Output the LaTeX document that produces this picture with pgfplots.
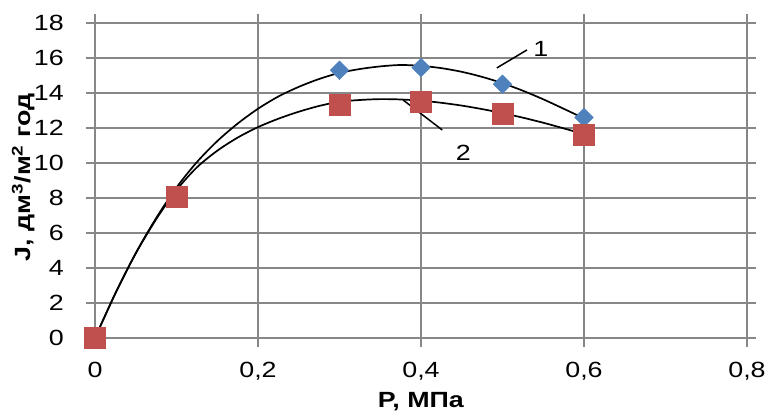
\documentclass[border=0pt]{standalone}
\usepackage{fontspec}
\setmainfont{Liberation Sans}[FakeStretch=1.22]
\usepackage{pgfplots}
\pgfplotsset{compat=1.18}

\definecolor{ser1}{HTML}{4F81BD}
\definecolor{ser2}{HTML}{C0504D}
\definecolor{gridc}{HTML}{878787}

\begin{document}
\begin{tikzpicture}[font=\fontsize{22}{26}\selectfont]
\begin{axis}[
    scale only axis,
    width=652pt, height=315pt,
    xmin=0, xmax=0.8, ymin=0, ymax=18,
    xtick={0,0.2,0.4,0.6,0.8},
    ytick={0,2,4,6,8,10,12,14,16,18},
    grid=major,
    grid style={gridc, line width=1.8pt},
    axis line style={gridc, line width=1.8pt},
    tick style={gridc, line width=1.8pt},
    tick align=outside,
    major tick length=9pt,
    /pgf/number format/use comma,
    /pgf/number format/assume math mode=true,
    xticklabel style={/pgf/number format/fixed, /pgf/number format/precision=1,
        anchor=base, inner sep=0pt, yshift=-30pt},
    yticklabel style={anchor=east, inner sep=0pt, xshift=-22pt},
    xlabel={\textbf{P, МПа}},
    ylabel={\textbf{J, дм\textsuperscript{3}/м\textsuperscript{2} год}},
    xlabel style={at={(axis description cs:0.5,-0.222)}, anchor=base, inner sep=0pt},
    ylabel style={at={(axis description cs:-0.11,0.51)}, anchor=center, inner sep=0pt},
    clip=false,
]
% series 1 (diamonds)
\addplot[only marks, mark=square*, mark size=6.6pt,
    mark options={rotate=45, fill=ser1, draw=ser1}] coordinates {
    (0,0) (0.1,8.15) (0.3,15.3) (0.4,15.45) (0.5,14.5) (0.6,12.6)
};
% series 2 (squares)
\addplot[only marks, mark=square*, mark size=10.5pt,
    mark options={fill=ser2, draw=ser2}] coordinates {
    (0,0) (0.1,8.05) (0.3,13.35) (0.4,13.5) (0.5,12.8) (0.6,11.6)
};
% trend line 1
\addplot[black, line width=1.7pt, smooth, no marks] coordinates {
    (0,0) (0.025,2.55) (0.05,4.85) (0.075,6.85) (0.1,8.6) (0.125,10.05)
    (0.15,11.25) (0.175,12.25) (0.2,13.1) (0.225,13.8) (0.25,14.35)
    (0.275,14.8) (0.3,15.15) (0.325,15.37) (0.35,15.52) (0.375,15.6)
    (0.4,15.55) (0.425,15.42) (0.45,15.21) (0.475,14.92) (0.5,14.56)
    (0.525,14.13) (0.55,13.64) (0.575,13.1) (0.6,12.55)
};
% trend line 2
\addplot[black, line width=1.7pt, smooth, no marks] coordinates {
    (0,0) (0.025,2.55) (0.05,4.83) (0.075,6.78) (0.1,8.45) (0.125,9.75)
    (0.15,10.7) (0.175,11.45) (0.2,12.05) (0.225,12.53) (0.25,12.93)
    (0.275,13.26) (0.3,13.5) (0.325,13.6) (0.35,13.65) (0.375,13.63)
    (0.4,13.56) (0.425,13.44) (0.45,13.28) (0.475,13.08) (0.5,12.85)
    (0.525,12.59) (0.55,12.3) (0.575,11.98) (0.6,11.65)
};
\draw[black, line width=1.5pt] (axis cs:0.493,15.43) -- (axis cs:0.530,16.46);
\node at (axis cs:0.547,16.5) {1};
\draw[black, line width=1.5pt] (axis cs:0.378,13.6) -- (axis cs:0.426,11.89);
\node at (axis cs:0.452,10.57) {2};
\end{axis}
\pgfresetboundingbox
\path ([shift={(-95pt,-81pt)}]current axis.south west)
    rectangle ([shift={(20pt,23pt)}]current axis.north east);
\end{tikzpicture}
\end{document}
